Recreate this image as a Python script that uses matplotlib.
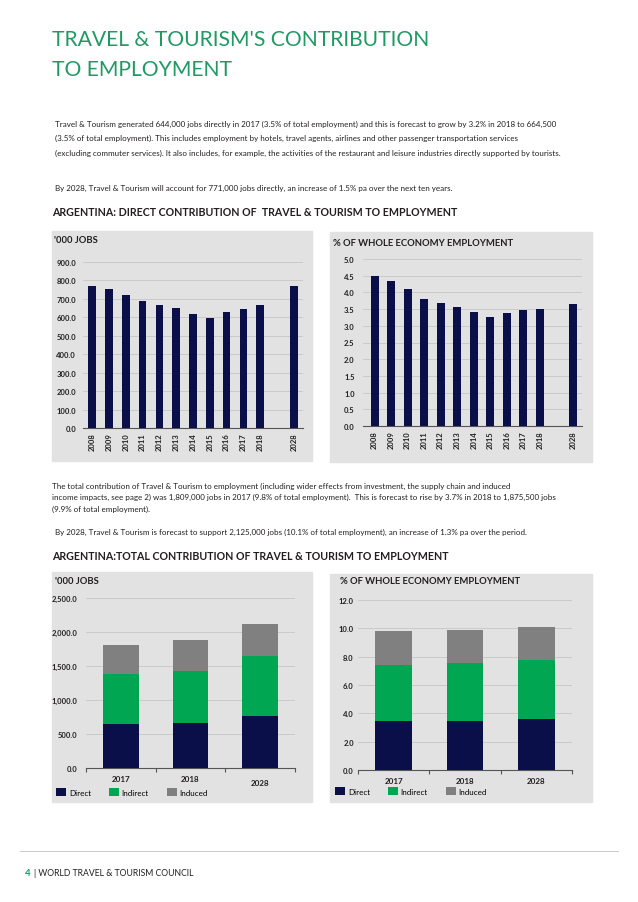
import matplotlib.pyplot as plt
from matplotlib.patches import Rectangle
from matplotlib.ticker import FuncFormatter
from matplotlib.transforms import ScaledTranslation

plt.rcParams['font.family'] = ['Lato', 'DejaVu Sans']

# ---------------- Datos ----------------
years = ["2008", "2009", "2010", "2011", "2012", "2013", "2014", "2015",
         "2016", "2017", "2018", "2028"]
year_pos = [0, 1, 2, 3, 4, 5, 6, 7, 8, 9, 10, 12]
direct_jobs = [770, 751, 722, 690, 668, 651, 618, 595, 627, 644, 664.5, 771]
direct_share = [4.48, 4.34, 4.11, 3.81, 3.68, 3.55, 3.42, 3.25, 3.38, 3.47, 3.49, 3.65]

total_years = ["2017", "2018", "2028"]
jobs_direct = [644, 664.5, 771]
jobs_indirect = [738, 766, 876]
jobs_induced = [427, 445, 478]
share_direct = [3.45, 3.46, 3.62]
share_indirect = [3.97, 4.08, 4.15]
share_induced = [2.38, 2.36, 2.33]
stack_labels = ["Direct", "Indirect", "Induced"]

NAVY = "#0a0f4a"
GREEN = "#00a651"
GREY = "#808080"
BG = "#e2e2e2"
TXT = "#231f20"
TITLE_GREEN = "#1f9a62"

W, H = 638, 903
fig = plt.figure(figsize=(W / 100, H / 100), dpi=100)


def fx(x):
    return x / W


def fy(y):
    return 1 - y / H


def add_axes(left, top, right, bottom):
    return fig.add_axes([fx(left), fy(bottom), fx(right) - fx(left), fy(top) - fy(bottom)])


def panel(x0, y0, x1, y1):
    fig.add_artist(Rectangle((fx(x0), fy(y1)), fx(x1) - fx(x0), fy(y0) - fy(y1),
                             transform=fig.transFigure, color=BG, zorder=-1))


def style_axes(ax, fmt):
    ax.set_facecolor("none")
    for s in ["left", "right", "top"]:
        ax.spines[s].set_visible(False)
    ax.spines["bottom"].set_color("#555555")
    ax.spines["bottom"].set_linewidth(0.8)
    ax.yaxis.grid(True, color="#c6c6c6", linewidth=0.6)
    ax.set_axisbelow(True)
    ax.yaxis.set_major_formatter(FuncFormatter(fmt))
    ax.tick_params(axis="y", length=0, labelsize=5.5, colors=TXT)
    for lab in ax.get_yticklabels():
        lab.set_fontweight("bold")


# ---------------- Textos ----------------
fig.text(fx(52), fy(40), "TRAVEL & TOURISM'S CONTRIBUTION", color=TITLE_GREEN,
         fontsize=15.2, va="center", ha="left")
fig.text(fx(52), fy(70), "TO EMPLOYMENT", color=TITLE_GREEN,
         fontsize=15.2, va="center", ha="left")

para1 = ["Travel & Tourism generated 644,000 jobs directly in 2017 (3.5% of total employment) and this is forecast to grow by 3.2% in 2018 to 664,500",
         "(3.5% of total employment). This includes employment by hotels, travel agents, airlines and other passenger transportation services",
         "(excluding commuter services). It also includes, for example, the activities of the restaurant and leisure industries directly supported by tourists."]
for i, line in enumerate(para1):
    fig.text(fx(55), fy(124 + 14.5 * i), line, fontsize=5.8, color=TXT, va="center")
fig.text(fx(55), fy(188), "By 2028, Travel & Tourism will account for 771,000 jobs directly, an increase of 1.5% pa over the next ten years.",
         fontsize=5.8, color=TXT, va="center")
fig.text(fx(52), fy(213), "ARGENTINA: DIRECT CONTRIBUTION OF  TRAVEL & TOURISM TO EMPLOYMENT",
         fontsize=7.7, fontweight="bold", color=TXT, va="center")

para2 = ["The total contribution of Travel & Tourism to employment (including wider effects from investment, the supply chain and induced",
         "income impacts, see page 2) was 1,809,000 jobs in 2017 (9.8% of total employment).  This is forecast to rise by 3.7% in 2018 to 1,875,500 jobs",
         "(9.9% of total employment)."]
for i, line in enumerate(para2):
    fig.text(fx(52), fy(486 + 11.5 * i), line, fontsize=5.8, color=TXT, va="center")
fig.text(fx(55), fy(532), "By 2028, Travel & Tourism is forecast to support 2,125,000 jobs (10.1% of total employment), an increase of 1.3% pa over the period.",
         fontsize=5.8, color=TXT, va="center")
fig.text(fx(52), fy(556), "ARGENTINA:TOTAL CONTRIBUTION OF TRAVEL & TOURISM TO EMPLOYMENT",
         fontsize=7.7, fontweight="bold", color=TXT, va="center")

# ---------------- Paneles superiores ----------------
panel(52, 232, 312, 462)
panel(330, 233, 592, 463)
fig.text(fx(54), fy(241), "'000 JOBS", fontsize=6.8, fontweight="bold", color=TXT, va="center")
fig.text(fx(333), fy(243), "% OF WHOLE ECONOMY EMPLOYMENT", fontsize=6.8, fontweight="bold", color=TXT, va="center")

ax1 = add_axes(83, 263, 303, 429)
ax1.bar(year_pos, direct_jobs, width=0.46, color=NAVY, zorder=3)
ax1.set_ylim(0, 900)
ax1.set_yticks(range(0, 901, 100))
ax1.set_xlim(-0.55, 12.55)
style_axes(ax1, lambda v, p: f"{v:.1f}")
ax1.tick_params(axis="y", pad=5)
ax1.set_xticks(year_pos)
ax1.set_xticklabels(years, rotation=90, fontsize=5.5, fontweight="bold", color=TXT)
ax1.tick_params(axis="x", length=0, pad=3)

ax2 = add_axes(363, 260, 582, 427)
ax2.bar(year_pos, direct_share, width=0.48, color=NAVY, zorder=3)
ax2.set_ylim(0, 5)
ax2.set_yticks([i * 0.5 for i in range(11)])
ax2.set_xlim(-0.7, 12.55)
style_axes(ax2, lambda v, p: f"{v:.1f}")
ax2.tick_params(axis="y", pad=6)
ax2.set_xticks(year_pos)
ax2.set_xticklabels(years, rotation=90, fontsize=5.5, fontweight="bold", color=TXT)
ax2.tick_params(axis="x", length=0, pad=3)

# ---------------- Paneles inferiores ----------------
panel(52, 573, 312, 803)
panel(330, 575, 592, 803)
fig.text(fx(55), fy(582), "'000 JOBS", fontsize=6.8, fontweight="bold", color=TXT, va="center")
fig.text(fx(340), fy(582), "% OF WHOLE ECONOMY EMPLOYMENT", fontsize=6.8, fontweight="bold", color=TXT, va="center")


def stacked(ax, d, i, s):
    x = range(len(total_years))
    b1 = ax.bar(x, d, width=0.51, color=NAVY, zorder=3)
    b2 = ax.bar(x, i, width=0.51, bottom=d, color=GREEN, zorder=3)
    b3 = ax.bar(x, s, width=0.51, bottom=[a + b for a, b in zip(d, i)], color=GREY, zorder=3)
    ax.set_xlim(-0.5, 2.5)
    ax.set_xticks([-0.5, 0.5, 1.5, 2.5])
    ax.set_xticklabels([])
    ax.set_xticks(list(x), minor=True)
    ax.set_xticklabels(total_years, minor=True, fontsize=5.8, fontweight="bold", color=TXT)
    ax.tick_params(axis="x", which="major", length=3, direction="out", color="#555555", width=0.8)
    ax.tick_params(axis="x", which="minor", length=0, pad=5)
    return [b1, b2, b3]


ax3 = add_axes(86, 599, 295, 769)
h3 = stacked(ax3, jobs_direct, jobs_indirect, jobs_induced)
ax3.set_ylim(0, 2500)
ax3.set_yticks(range(0, 2501, 500))
style_axes(ax3, lambda v, p: f"{v:,.1f}")
ax3.tick_params(axis="y", pad=6)
# la etiqueta 2028 queda un poco más abajo en el original
lab28 = ax3.get_xticklabels(minor=True)[2]
lab28.set_transform(lab28.get_transform() + ScaledTranslation(0, -3 / 72, fig.dpi_scale_trans))
ax3.legend(h3, stack_labels, ncol=3, frameon=False, loc="center left",
           bbox_to_anchor=(fx(56), fy(793)), bbox_transform=fig.transFigure,
           fontsize=5.8, handlelength=1.3, handleheight=1.3, handletextpad=0.3,
           columnspacing=2.2, borderaxespad=0, borderpad=0)

ax4 = add_axes(358, 601, 572, 771)
h4 = stacked(ax4, share_direct, share_indirect, share_induced)
ax4.set_ylim(0, 12)
ax4.set_yticks(range(0, 13, 2))
style_axes(ax4, lambda v, p: f"{v:.1f}")
ax4.tick_params(axis="y", pad=3)
ax4.legend(h4, stack_labels, ncol=3, frameon=False, loc="center left",
           bbox_to_anchor=(fx(335), fy(792)), bbox_transform=fig.transFigure,
           fontsize=5.8, handlelength=1.3, handleheight=1.3, handletextpad=0.3,
           columnspacing=2.2, borderaxespad=0, borderpad=0)

# ---------------- Pie ----------------
fig.add_artist(plt.Line2D([fx(20), fx(618)], [fy(852), fy(852)], transform=fig.transFigure,
                          color="#c0c0c0", linewidth=0.6))
fig.text(fx(25), fy(874), "4", fontsize=7, fontweight="bold", color=TITLE_GREEN, va="center")
fig.text(fx(34), fy(874), "| WORLD TRAVEL & TOURISM COUNCIL", fontsize=6.2, color=TXT, va="center")

fig.savefig("out.png", dpi=100, facecolor="white")
